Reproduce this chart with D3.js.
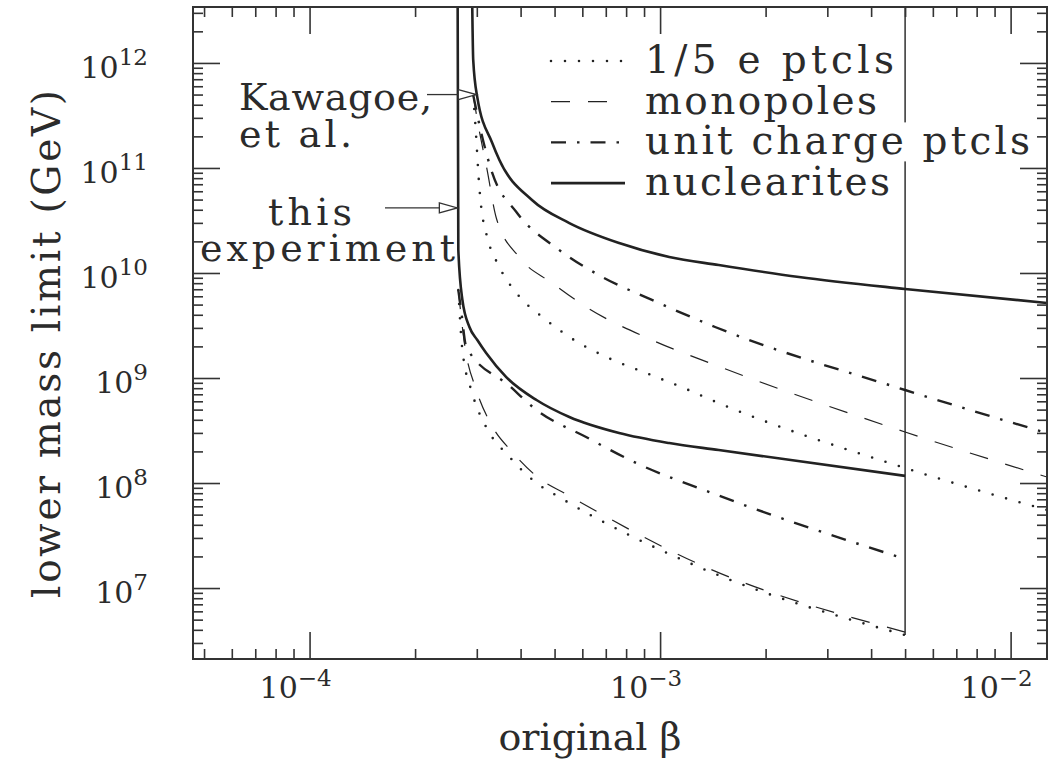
<!DOCTYPE html>
<meta charset="utf-8">
<title>lower mass limit vs original beta</title>
<script src="https://cdn.jsdelivr.net/npm/d3@7"></script>
<style>

body { margin: 0; background: #fff; }
svg { display: block; }

text {
  font-family: "DejaVu Serif", serif;
  fill: #2b2b2b;
}

.axis line { stroke: #333; stroke-width: 1.6px; }
.axis path { display: none; }

.curve { fill: none; stroke: #222; }
.solid { stroke-width: 2.6px; }
.dashdot { stroke-width: 2.4px; stroke-dasharray: 15 11 2.5 11; }
.dashed { stroke-width: 1.2px; stroke-dasharray: 19 18; }
.dotted { stroke-width: 2.6px; stroke-dasharray: 0 14; stroke-linecap: round; }

</style>
<body>
<script>

// beta, lower mass limit (GeV)
// upper family: Kawagoe et al.
var kawagoeNuclearites = [[2.91e-4,4e12],[2.93e-4,1.07e12],[3.01e-4,4.7e11],[3.32e-4,1.73e11],[3.48e-4,1.19e11],
  [4.31e-4,4.95e10],[5.51e-4,2.99e10],[7.64e-4,1.93e10],[1.062e-3,1.42e10],[1.47e-3,1.19e10],[2.49e-3,9.16e9],
  [5e-3,7.04e9],[1.27e-2,5.18e9]];
var kawagoeUnit = [[2.93e-4,4.95e11],[3.09e-4,2.15e11],[3.32e-4,8.96e10],[3.89e-4,3.81e10],[5.15e-4,1.66e10],
  [6.84e-4,9.16e9],[9.48e-4,5.54e9],[1.435e-3,3.06e9],[5e-3,7.69e8],[1.27e-2,2.99e8]];
var kawagoeMonopoles = [[2.93e-4,4.95e11],[3.01e-4,2.87e11],[3.21e-4,9.57e10],[3.41e-4,3.34e10],[3.96e-4,1.42e10],
  [4.92e-4,8.03e9],[6.15e-4,4.75e9],[9.48e-4,2.30e9],[1.435e-3,1.33e9],[5e-3,3.06e8],[1.27e-2,1.14e8]];
var kawagoeFifth = [[2.93e-4,4.95e11],[2.97e-4,2.68e11],[3.05e-4,6.59e10],[3.09e-4,4.16e10],[3.19e-4,2.40e10],
  [3.48e-4,1.14e10],[3.89e-4,6.46e9],[4.73e-4,3.57e9],[5.51e-4,2.46e9],[7.02e-4,1.585e9],[9.12e-4,1.116e9],
  [1.186e-3,7.86e8],[1.396e-3,6.2e8],[5e-3,1.39e8],[1.27e-2,5.53e7]];

// lower family: this experiment (ends at beta = 5e-3)
var expNuclearites = [[2.645e-4,4e12],[2.657e-4,1.66e10],[2.729e-4,5.54e9],[2.858e-4,3.06e9],[3.01e-4,2.30e9],
  [3.19e-4,1.73e9],[3.64e-4,1.02e9],[4.44e-4,6.17e8],[5.51e-4,4.25e8],[7.64e-4,2.99e8],[1.062e-3,2.40e8],
  [1.47e-3,2.06e8],[5e-3,1.17e8]];
var expUnit = [[2.657e-4,6.88e9],[2.71e-4,4.25e9],[2.80e-4,1.97e9],[3.72e-4,8.4e8],[4.44e-4,4.96e8],
  [6.15e-4,2.74e8],[8.55e-4,1.55e8],[1.405e-3,8.03e7],[5e-3,1.89e7]];
var expMonopoles = [[2.657e-4,6.88e9],[2.77e-4,2.06e9],[2.99e-4,7.69e8],[3.28e-4,3.73e8],[3.81e-4,1.93e8],
  [4.55e-4,1.09e8],[5.33e-4,8.03e7],[1.29e-3,1.69e7],[5e-3,3.81e6]];
var expFifth = [[2.657e-4,6.88e9],[2.729e-4,1.85e9],[2.91e-4,7.2e8],[3.19e-4,3.41e8],[3.72e-4,1.77e8],
  [4.44e-4,1e8],[5.15e-4,7.36e7],[1.29e-3,1.585e7],[5e-3,3.57e6]];

var cutBeta = 5e-3;
var cutBottom = 3.57e6;

var xMajor = [1e-4, 1e-3, 1e-2];
var xMajorExp = ["\u22124", "\u22123", "\u22122"];
var yMajor = [1e7, 1e8, 1e9, 1e10, 1e11, 1e12];
var yMajorExp = ["7", "8", "9", "10", "11", "12"];

var legendLabels = ["1/5 e ptcls", "monopoles", "unit charge ptcls", "nuclearites"];
var legendStyles = ["dotted", "dashed", "dashdot", "solid"];
var legendWidths = [249, 232, 385, 245];

var width = 1048, height = 765;
var plotL = 193, plotR = 1047, plotT = 7, plotB = 659;

var svg = d3.select("body").append("svg")
    .attr("width", width)
    .attr("height", height);

var x = d3.scaleLog().domain([4.65e-5, 1.27e-2]).range([plotL, plotR]);
var y = d3.scaleLog().domain([2.11e6, 3.41e12]).range([plotB, plotT]);

svg.append("clipPath").attr("id", "plot")
  .append("rect")
    .attr("x", plotL).attr("y", plotT)
    .attr("width", plotR - plotL).attr("height", plotB - plotT);

var line = d3.line()
    .x(function(d) { return x(d[0]); })
    .y(function(d) { return y(d[1]); })
    .curve(d3.curveMonotoneX);

var curves = [
  [kawagoeFifth, "dotted"], [kawagoeMonopoles, "dashed"], [kawagoeUnit, "dashdot"], [kawagoeNuclearites, "solid"],
  [expFifth, "dotted"], [expMonopoles, "dashed"], [expUnit, "dashdot"], [expNuclearites, "solid"]
];

var g = svg.append("g").attr("clip-path", "url(#plot)");

g.selectAll("path.curve")
  .data(curves)
  .enter().append("path")
    .attr("class", function(d) { return "curve " + d[1]; })
    .attr("d", function(d) { return line(d[0]); });

// end of this experiment's range
g.append("line")
    .attr("x1", x(cutBeta)).attr("x2", x(cutBeta))
    .attr("y1", plotT).attr("y2", y(cutBottom))
    .attr("stroke", "#222")
    .attr("stroke-width", 1.4);

// legend
var legend = svg.append("g");
legendLabels.forEach(function(lab, i) {
  var ly = 61 + i * 40.7;
  var t = legend.append("text")
      .attr("x", 645).attr("y", ly + 12)
      .attr("font-size", "39px")
      .attr("textLength", legendWidths[i])
      .attr("lengthAdjust", "spacing")
      .text(lab);
  var bb = t.node().getBBox();
  legend.insert("rect", "text")
      .attr("x", bb.x - 3).attr("y", bb.y + 4)
      .attr("width", bb.width + 6).attr("height", bb.height - 6)
      .attr("fill", "#fff");
  legend.append("line")
      .attr("class", "curve " + legendStyles[i])
      .attr("x1", 551).attr("x2", 625)
      .attr("y1", ly).attr("y2", ly);
});

// annotations
function arrow(tipX, tipY, tailX) {
  svg.append("line")
      .attr("x1", tailX).attr("x2", tipX - 18)
      .attr("y1", tipY).attr("y2", tipY)
      .attr("stroke", "#333").attr("stroke-width", 1.3);
  svg.append("path")
      .attr("d", "M" + (tipX - 18) + "," + (tipY - 5) + "L" + tipX + "," + tipY + "L" + (tipX - 18) + "," + (tipY + 5) + "Z")
      .attr("fill", "#fff").attr("stroke", "#333").attr("stroke-width", 1.3);
}
arrow(x(2.99e-4), y(5e11), 427);
arrow(x(2.64e-4), y(4.16e10), 385);

svg.append("text").attr("x", 239).attr("y", 110).attr("font-size", "38px")
    .attr("textLength", 193).attr("lengthAdjust", "spacing").text("Kawagoe,");
svg.append("text").attr("x", 239).attr("y", 147).attr("font-size", "38px")
    .attr("textLength", 113).attr("lengthAdjust", "spacing").text("et al.");
svg.append("text").attr("x", 268).attr("y", 225).attr("font-size", "38px")
    .attr("textLength", 84).attr("lengthAdjust", "spacing").text("this");
svg.append("text").attr("x", 200).attr("y", 261).attr("font-size", "38px")
    .attr("textLength", 255).attr("lengthAdjust", "spacing").text("experiment");

// axes: ticks on all four sides, pointing inward
var xMinor = [], yMinor = [];
for (var e = -5; e <= -2; e++)
  for (var k = 2; k <= 9; k++) {
    var v = k * Math.pow(10, e);
    if (v >= x.domain()[0] && v <= x.domain()[1]) xMinor.push(v);
  }
for (var e = 6; e <= 12; e++)
  for (var k = 2; k <= 9; k++) {
    var v = k * Math.pow(10, e);
    if (v >= y.domain()[0] && v <= y.domain()[1]) yMinor.push(v);
  }

function addAxis(axisFn, scale, vals, size, tx, ty) {
  var a = svg.append("g")
      .attr("class", "axis")
      .attr("transform", "translate(" + tx + "," + ty + ")")
      .call(axisFn(scale).tickValues(vals).tickSize(-size).tickFormat(""));
  a.selectAll("text").remove();
}
addAxis(d3.axisBottom, x, xMajor, 27, 0, plotB);
addAxis(d3.axisBottom, x, xMinor, 10, 0, plotB);
addAxis(d3.axisTop, x, xMajor, 27, 0, plotT);
addAxis(d3.axisTop, x, xMinor, 10, 0, plotT);
addAxis(d3.axisLeft, y, yMajor, 27, plotL, 0);
addAxis(d3.axisLeft, y, yMinor, 10, plotL, 0);
addAxis(d3.axisRight, y, yMajor, 27, plotR, 0);
addAxis(d3.axisRight, y, yMinor, 10, plotR, 0);

svg.append("rect")
    .attr("x", plotL).attr("y", plotT)
    .attr("width", plotR - plotL).attr("height", plotB - plotT)
    .attr("fill", "none").attr("stroke", "#333").attr("stroke-width", 2);

// tick labels
xMajor.forEach(function(v, i) {
  var t = svg.append("text")
      .attr("x", x(v) - 50).attr("y", 698)
      .attr("font-size", "30px");
  t.append("tspan").text("10");
  t.append("tspan").attr("dy", -12).attr("font-size", "23px").text(xMajorExp[i]);
});
yMajor.forEach(function(v, i) {
  var t = svg.append("text")
      .attr("x", 148).attr("y", y(v) + 15)
      .attr("text-anchor", "end")
      .attr("font-size", "30px");
  t.append("tspan").text("10");
  t.append("tspan").attr("dy", -13).attr("font-size", "23px").text(yMajorExp[i]);
});

// axis titles
svg.append("text")
    .attr("x", 590).attr("y", 750)
    .attr("text-anchor", "middle")
    .attr("font-size", "38px")
    .text("original \u03b2");

svg.append("text")
    .attr("transform", "translate(60,344) rotate(-90)")
    .attr("text-anchor", "middle")
    .attr("font-size", "39px")
    .attr("textLength", 508)
    .attr("lengthAdjust", "spacing")
    .text("lower mass limit (GeV)");

</script>
</body>
</html>
